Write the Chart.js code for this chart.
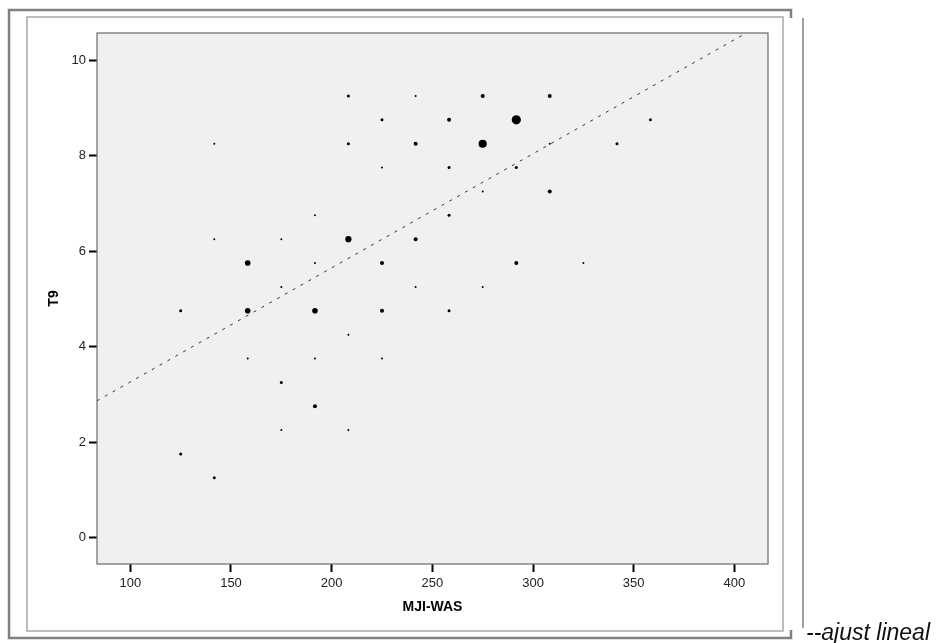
<!DOCTYPE html>
<html>
<head>
<meta charset="utf-8">
<title>T9 - MJI-WAS</title>
<script src="https://cdn.jsdelivr.net/npm/chart.js@4.4.1/dist/chart.umd.min.js"></script>
<style>
  html, body { margin: 0; padding: 0; background: #fff; }
  #wrap { width: 943px; height: 643px; }
</style>
</head>
<body>
<div id="wrap"><canvas id="grafic" width="943" height="643"></canvas></div>
<script>
// --- dades llegides del gràfic ---
const mjiWas = [
  208.3, 241.7, 275, 308.3,
  225, 258.3, 291.7, 358.3,
  141.7, 208.3, 241.7, 275, 308.3, 341.7,
  225, 258.3, 291.7,
  275, 308.3,
  191.7, 258.3,
  141.7, 175, 208.3, 241.7,
  158.3, 191.7, 225, 291.7, 325,
  175, 241.7, 275,
  125, 158.3, 191.7, 225, 258.3,
  208.3,
  158.3, 191.7, 225,
  175,
  191.7,
  175, 208.3,
  125,
  141.7
];
const t9 = [
  9.25, 9.25, 9.25, 9.25,
  8.75, 8.75, 8.75, 8.75,
  8.25, 8.25, 8.25, 8.25, 8.25, 8.25,
  7.75, 7.75, 7.75,
  7.25, 7.25,
  6.75, 6.75,
  6.25, 6.25, 6.25, 6.25,
  5.75, 5.75, 5.75, 5.75, 5.75,
  5.25, 5.25, 5.25,
  4.75, 4.75, 4.75, 4.75, 4.75,
  4.25,
  3.75, 3.75, 3.75,
  3.25,
  2.75,
  2.25, 2.25,
  1.75,
  1.25
];
// nombre de casos a cada punt (mida del punt)
const freq = [
  2, 1, 3, 3,
  2, 3, 9, 2,
  1, 2, 3, 8, 1, 2,
  1, 2, 2,
  1, 3,
  1, 2,
  1, 1, 6, 3,
  5, 1, 3, 3, 1,
  1, 1, 1,
  2, 5, 5, 3, 2,
  1,
  1, 1, 1,
  2,
  3,
  1, 1,
  2,
  2
];

// recta d'ajust lineal
const fitIntercept = 0.87;
const fitSlope = 0.0239;

// --- estil ---
const radiusByFreq = [0, 1.0, 1.5, 2.0, 2.4, 2.8, 3.1, 3.5, 4.1, 4.6];
const xMin = 83.45, xMax = 416.7;
const yMin = -0.555, yMax = 10.57;
const tickFont = { family: "'Liberation Sans Narrow', 'Arial Narrow', Arial, sans-serif", size: 13 };
const titleFont = { family: "Arial, 'Liberation Sans', sans-serif", size: 14, weight: 'bold' };

const punts = mjiWas.map((x, i) => ({ x: x, y: t9[i] }));
const recta = [xMin, xMax].map(x => ({ x: x, y: fitIntercept + fitSlope * x }));

// marcs, fons i llegenda
const marcs = {
  id: 'marcs',
  beforeDraw(chart) {
    const ctx = chart.ctx;
    const a = chart.chartArea;
    ctx.save();
    ctx.fillStyle = '#fff';
    ctx.fillRect(0, 0, chart.width, chart.height);
    // marc exterior
    ctx.strokeStyle = '#808080';
    ctx.lineWidth = 2.5;
    ctx.beginPath();
    ctx.moveTo(791, 18);
    ctx.lineTo(791, 10);
    ctx.lineTo(9, 10);
    ctx.lineTo(9, 638);
    ctx.lineTo(791, 638);
    ctx.lineTo(791, 630);
    ctx.stroke();
    // marc interior
    ctx.strokeStyle = '#a8a8a8';
    ctx.lineWidth = 1.5;
    ctx.strokeRect(27, 17, 756, 614);
    // fons de la zona de dades
    ctx.fillStyle = '#f0f0f0';
    ctx.fillRect(a.left, a.top, a.right - a.left, a.bottom - a.top);
    ctx.restore();
  },
  afterDatasetsDraw(chart) {
    const ctx = chart.ctx;
    const a = chart.chartArea;
    ctx.save();
    ctx.strokeStyle = '#6a6a6a';
    ctx.lineWidth = 1.2;
    ctx.strokeRect(a.left, a.top, a.right - a.left, a.bottom - a.top);
    ctx.restore();
  },
  afterDraw(chart) {
    const ctx = chart.ctx;
    ctx.save();
    ctx.strokeStyle = '#808080';
    ctx.lineWidth = 1.5;
    ctx.beginPath();
    ctx.moveTo(803, 18);
    ctx.lineTo(803, 628);
    ctx.stroke();
    ctx.fillStyle = '#111';
    ctx.font = "italic 23px Arial, 'Liberation Sans', sans-serif";
    ctx.textBaseline = 'alphabetic';
    ctx.fillText('--ajust lineal', 806, 640);
    ctx.restore();
  }
};

new Chart(document.getElementById('grafic'), {
  type: 'scatter',
  data: {
    datasets: [
      {
        label: 'T9',
        data: punts,
        backgroundColor: '#000',
        borderWidth: 0,
        pointRadius: ctx => radiusByFreq[freq[ctx.dataIndex]] || 1,
        pointHoverRadius: ctx => radiusByFreq[freq[ctx.dataIndex]] || 1,
        order: 1
      },
      {
        type: 'line',
        label: 'ajust lineal',
        data: recta,
        borderColor: '#333',
        borderWidth: 1,
        borderDash: [3, 6],
        pointRadius: 0,
        fill: false,
        order: 2
      }
    ]
  },
  options: {
    responsive: false,
    animation: false,
    layout: { padding: { left: 0, top: 33, right: 175, bottom: 0 } },
    plugins: {
      legend: { display: false },
      tooltip: { enabled: false }
    },
    scales: {
      x: {
        type: 'linear',
        min: xMin,
        max: xMax,
        ticks: { stepSize: 50, includeBounds: false, font: tickFont, color: '#222', padding: 4, maxRotation: 0 },
        grid: { drawOnChartArea: false, tickLength: 8, tickWidth: 2, tickColor: '#000' },
        border: { display: false },
        title: { display: true, text: 'MJI-WAS', font: titleFont, color: '#000', padding: { top: 0, bottom: 27 } },
        afterFit(scale) { scale.height = 79; }
      },
      y: {
        type: 'linear',
        min: yMin,
        max: yMax,
        ticks: { stepSize: 2, includeBounds: false, font: tickFont, color: '#222', padding: 3 },
        grid: { drawOnChartArea: false, tickLength: 8, tickWidth: 2, tickColor: '#000' },
        border: { display: false },
        title: { display: true, text: 'T9', font: titleFont, color: '#000', padding: { top: 46, bottom: 0 } },
        afterFit(scale) { scale.width = 97; }
      }
    }
  },
  plugins: [marcs]
});
</script>
</body>
</html>
